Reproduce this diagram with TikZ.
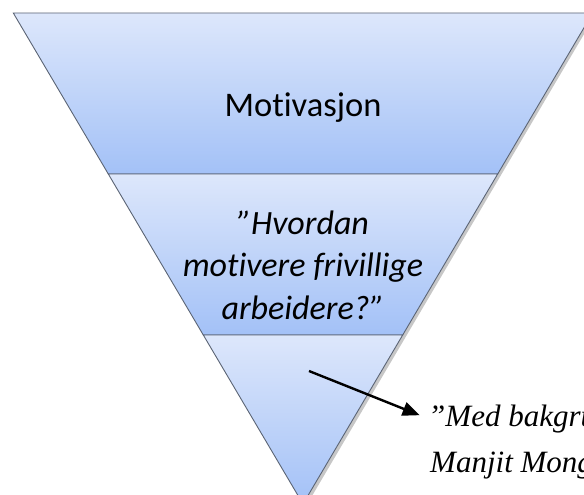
\documentclass[tikz,border=0pt]{standalone}
\usepackage{fontspec}
\setmainfont[Ligatures=NoCommon]{Carlito}
\newfontfamily\citefont{Liberation Serif}
\usetikzlibrary{arrows.meta, positioning}
\definecolor{bandtop}{HTML}{DDE7FB}
\definecolor{bandbot}{HTML}{A3C1F7}
\definecolor{bandedge}{HTML}{5B6474}
\tikzset{
  band/.style={draw=bandedge, line width=0.9pt, top color=bandtop, bottom color=bandbot, line join=miter},
  bandtext/.style={anchor=base, align=center, inner sep=0pt, font=\fontsize{34.5}{42}\selectfont},
  asktext/.style={bandtext, font=\itshape\fontsize{34}{42.5}\selectfont},
  citetext/.style={anchor=base west, inner sep=0pt, font=\citefont\itshape\fontsize{31}{36}\selectfont},
  line/.style={-{Triangle[length=17pt, width=14pt]}, line width=2.4pt, shorten >=9pt}
}
\begin{document}
\begin{tikzpicture}[x=1pt, y=-1pt]
    \useasboundingbox (0,0) rectangle (584,495);
    \clip (0,0) rectangle (584,495);
    % shadow behind the funnel
    \fill[black, opacity=0.22] (15.5,15.5) -- (595,15.5) -- (305.5,507) -- cycle;
    % the three bands
    \draw[band] (13.3,13) -- (592.7,13) -- (497.7,174) -- (108.3,174) -- cycle;
    \draw[band] (108.3,174) -- (497.7,174) -- (402.7,335) -- (203.3,335) -- cycle;
    \draw[band] (203.3,335) -- (402.7,335) -- (303,504) -- cycle;
    \node[bandtext] (motiv) at (303,117) {Motivasjon};
    \node[asktext] (ask) at (303,319) {”Hvordan\\motivere frivillige\\arbeidere?”};
    \coordinate (from) at (309,371);
    \node[citetext] (cite1) at (428,426) {”Med bakgru};
    \node[citetext] (cite2) at (430,472) {Manjit Mong};
    \draw[line] (from) -- (cite1.west);
  \end{tikzpicture}
\end{document}
